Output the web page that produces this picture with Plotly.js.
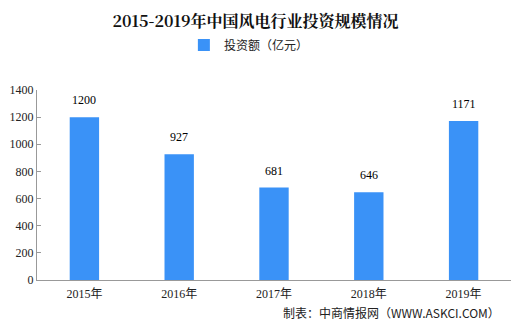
<!DOCTYPE html>
<html>
<head>
<meta charset="utf-8">
<script src="https://cdn.plot.ly/plotly-3.0.1.min.js"></script>
<style>html,body{margin:0;padding:0;background:#fff;}#chart{width:511px;height:335px;}</style>
</head>
<body>
<div id="chart"></div>
<script>
var categories = ['2015年', '2016年', '2017年', '2018年', '2019年'];
var investment = [1200, 927, 681, 646, 1171];
var seriesName = '投资额（亿元）';
var yTicks = [0, 200, 400, 600, 800, 1000, 1200, 1400];

var font = '"Liberation Serif", "Noto Sans CJK SC", serif';
var trace = {
  type: 'bar',
  x: categories,
  y: investment,
  name: seriesName,
  marker: {color: '#3a92f7'},
  hoverinfo: 'none'
};
var valueLabels = categories.map(function (c, i) {
  return {x: c, y: investment[i], xref: 'x', yref: 'y', text: String(investment[i]),
          showarrow: false, yanchor: 'bottom', yshift: 8,
          font: {family: font, size: 12, color: '#000'}};
});
var layout = {
  width: 511, height: 335,
  margin: {l: 37, r: 0, t: 90, b: 55},
  paper_bgcolor: '#fff', plot_bgcolor: '#fff',
  bargap: 0.69,
  showlegend: true,
  legend: {orientation: 'h', x: 0.447, xanchor: 'center', y: 290/335, yref: 'container', yanchor: 'middle',
           font: {family: '"Noto Sans CJK SC", sans-serif', size: 12, color: '#222'}, itemwidth: 30},
  title: {text: '<b>2015-2019年中国风电行业投资规模情况</b>', x: 0.5, xanchor: 'center', y: 314/335, yref: 'container', yanchor: 'middle',
          font: {family: '"Noto Serif CJK SC", "Noto Sans CJK SC", serif', size: 16, color: '#111'}},
  xaxis: {type: 'category', showline: true, linecolor: '#999', linewidth: 1, ticks: '', showgrid: false,
          ticklabelstandoff: 3,
          tickfont: {family: font, size: 12, color: '#222'}, fixedrange: true},
  yaxis: {range: [0, 1400], tickvals: yTicks, showline: true, linecolor: '#999', linewidth: 1,
          ticks: 'inside', ticklen: 4, tickcolor: '#999', showgrid: false, zeroline: false,
          tickfont: {family: font, size: 12, color: '#222'}, fixedrange: true},
  annotations: valueLabels.concat([{text: '制表：中商情报网（WWW.ASKCI.COM）', xref: 'paper', yref: 'paper', x: 0.98, xanchor: 'right',
                 y: -0.17, yanchor: 'middle', showarrow: false,
                 font: {family: '"Noto Sans CJK SC", sans-serif', size: 12, color: '#222'}}])
};
Plotly.newPlot('chart', [trace], layout, {displayModeBar: false, staticPlot: true});
</script>
</body>
</html>
